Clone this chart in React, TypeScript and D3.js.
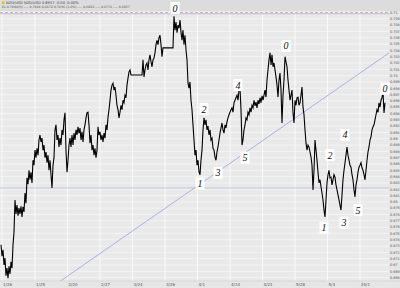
import React from 'react';
import * as d3 from 'd3';

const W = 400;
const H = 288;

// Price series (NZD/USD), three contiguous segments of bars (time index = bar number)
const seg1Start = 1;
const seg1 = [
  0.6732, 0.6714, 0.6724, 0.6700, 0.6711, 0.6683, 0.6695, 0.6679, 0.6698, 0.6686,
  0.6705, 0.6695, 0.6732, 0.6752, 0.6803, 0.6781, 0.6795, 0.6778, 0.6790, 0.6781,
  0.6793, 0.6776, 0.6792, 0.6784, 0.6814, 0.6798, 0.6838, 0.6828, 0.6850, 0.6835,
  0.6847, 0.6830, 0.6866, 0.6858, 0.6882, 0.6870, 0.6885, 0.6874, 0.6898, 0.6906,
  0.6895, 0.6901, 0.6882, 0.6890, 0.6870, 0.6879, 0.6862, 0.6874, 0.6850, 0.6866,
  0.6843, 0.6822, 0.6858, 0.6870, 0.6914, 0.6922, 0.6898, 0.6906, 0.6887, 0.6901,
  0.6890, 0.6914, 0.6906, 0.6930, 0.6941, 0.6882, 0.6847, 0.6866, 0.6890, 0.6901,
  0.6887, 0.6906, 0.6890, 0.6909, 0.6898, 0.6914, 0.6906, 0.6919, 0.6909, 0.6917,
  0.6898, 0.6911, 0.6895, 0.6914, 0.6922, 0.6933, 0.6941, 0.6942, 0.6922, 0.6893,
  0.6906, 0.6882, 0.6890, 0.6874, 0.6885, 0.6870, 0.6882, 0.6919, 0.6906, 0.6911,
  0.6898, 0.6906, 0.6895, 0.6909, 0.6901, 0.6922, 0.6914, 0.6934, 0.6946, 0.6961,
  0.6977, 0.6985, 0.6988, 0.6977, 0.6982, 0.6969, 0.6953, 0.6946, 0.6933, 0.6942,
  0.6953, 0.6946, 0.6961, 0.6957, 0.6969, 0.6965, 0.6985, 0.6996, 0.7006, 0.7009,
  0.7001,
];
const seg2Start = 142;
const seg2 = [
  0.7001, 0.7025, 0.6998, 0.7009, 0.7017, 0.7020, 0.7009, 0.7025, 0.7033, 0.7022,
  0.7014, 0.7025, 0.7028, 0.7036, 0.7049, 0.7056, 0.7049, 0.7060, 0.7064, 0.7049,
  0.7030, 0.7044,
];
const seg3Start = 173;
const seg3 = [
  0.7044, 0.7094, 0.7072, 0.7085, 0.7068, 0.7080, 0.7075, 0.7088, 0.7069, 0.7056,
  0.7072, 0.7049, 0.7064, 0.7041, 0.7025, 0.6988, 0.6980, 0.6990, 0.6961, 0.6946,
  0.6922, 0.6898, 0.6874, 0.6882, 0.6858, 0.6866, 0.6847, 0.6843, 0.6866, 0.6882,
  0.6914, 0.6933, 0.6922, 0.6930, 0.6914, 0.6920, 0.6906, 0.6914, 0.6898, 0.6901,
  0.6885, 0.6882, 0.6871, 0.6866, 0.6879, 0.6887, 0.6898, 0.6909, 0.6917, 0.6925,
  0.6914, 0.6909, 0.6922, 0.6917, 0.6927, 0.6933, 0.6938, 0.6942, 0.6946, 0.6949,
  0.6942, 0.6957, 0.6961, 0.6965, 0.6969, 0.6961, 0.6977, 0.6980, 0.6946, 0.6890,
  0.6898, 0.6914, 0.6922, 0.6933, 0.6930, 0.6942, 0.6938, 0.6949, 0.6942, 0.6953,
  0.6949, 0.6961, 0.6952, 0.6958, 0.6949, 0.6961, 0.6955, 0.6965, 0.6957, 0.6968,
  0.6961, 0.6969, 0.6977, 0.6966, 0.6993, 0.7009, 0.7025, 0.7036, 0.7017, 0.7033,
  0.7014, 0.7020, 0.7009, 0.6998, 0.6985, 0.6966, 0.6993, 0.7004, 0.6977, 0.6925,
  0.6969, 0.6993, 0.7030, 0.7022, 0.7014, 0.6993, 0.6977, 0.6961, 0.6969, 0.6977,
  0.6941, 0.6925, 0.6961, 0.6953, 0.6965, 0.6966, 0.6953, 0.6957, 0.6969, 0.6982,
  0.6950, 0.6938, 0.6914, 0.6893, 0.6882, 0.6890, 0.6887, 0.6879, 0.6871, 0.6858,
  0.6819, 0.6850, 0.6898, 0.6882, 0.6866, 0.6847, 0.6830, 0.6835, 0.6824, 0.6814,
  0.6803, 0.6787, 0.6776, 0.6803, 0.6830, 0.6843, 0.6850, 0.6838, 0.6839, 0.6827,
  0.6835, 0.6843, 0.6839, 0.6827, 0.6819, 0.6811, 0.6803, 0.6795, 0.6787, 0.6811,
  0.6835, 0.6850, 0.6862, 0.6874, 0.6887, 0.6874, 0.6866, 0.6858, 0.6855, 0.6843,
  0.6835, 0.6819, 0.6808, 0.6827, 0.6835, 0.6847, 0.6855, 0.6858, 0.6862, 0.6854,
  0.6850, 0.6843, 0.6835, 0.6850, 0.6866, 0.6879, 0.6887, 0.6898, 0.6903, 0.6914,
  0.6919, 0.6922, 0.6930, 0.6938, 0.6946, 0.6942, 0.6957, 0.6950, 0.6961, 0.6965,
  0.6974, 0.6941, 0.6957,
];

// Axis ticks
const yTickValues = [
  0.71, 0.709, 0.708, 0.707, 0.706, 0.705, 0.704, 0.703, 0.702, 0.701, 0.7,
  0.699, 0.698, 0.697, 0.696, 0.695, 0.694, 0.693, 0.692, 0.691, 0.69,
  0.689, 0.688, 0.687, 0.686, 0.685, 0.684, 0.683, 0.682, 0.681, 0.68,
  0.679, 0.678, 0.677, 0.676, 0.675, 0.674, 0.673, 0.672, 0.671, 0.67,
  0.669, 0.668,
];
const xTickPositions = [2, 35, 67.5, 100, 132.5, 165, 197.5, 230, 262.5, 295, 327.5, 360];
const xTickLabels = ['1/26', '1/25', '2/20', '2/27', '3/24', '3/26', '4/1', '4/14', '4/21', '5/28', '5/4', '20/1'];

// Elliott wave labels (bar index, price at label centre)
const waveText = ['0', '1', '2', '3', '4', '5', '0', '1', '2', '3', '4', '5', '0'];
const waveBar = [175, 200, 204, 218, 238, 245, 286, 324, 330, 344, 345, 358, 385];
const wavePrice = [0.7107, 0.6829, 0.6947, 0.6846, 0.6985, 0.6870, 0.7047, 0.6759, 0.6874, 0.6767, 0.6906, 0.6787, 0.6979];

// Trend line and reference levels
const trendBars = [58, 389];
const trendPrices = [0.6672, 0.7036];
const supportLevel = 0.6822;
const topDashedLevel = 0.71;
const topBlueLevel = 0.7098;

const headerLine1 = 'NZD/USD NZD/USD  0.6957  -0.00  -0.00%';
const headerLine2 = 'EL 0.7094(H)    ---- 0.7044 0.6672 0.7036 (1.6%) ---- 0.6822  ---- 0.6776  ---- 0.6957';

export default function App() {
  const plotL = 0;
  const plotR = 389;
  const plotT = 11;
  const plotB = 281;

  const x = d3.scaleLinear().domain([0, 389]).range([plotL, plotR]);
  const y = d3.scaleLinear().domain([0.71, 0.67]).range([12.5, 265]);

  const series: [number, number][] = [];
  seg1.forEach((p, i) => series.push([seg1Start + i, p]));
  seg2.forEach((p, i) => series.push([seg2Start + i, p]));
  seg3.forEach((p, i) => series.push([seg3Start + i, p]));

  const line = d3
    .line<[number, number]>()
    .x((d) => x(d[0]))
    .y((d) => y(d[1]));

  const trend = d3
    .line<number>()
    .x((d) => x(trendBars[d]))
    .y((d) => y(trendPrices[d]));

  const fmt = (v: number) => {
    const s = d3.format('.3f')(v);
    return s.replace(/0$/, '');
  };

  return (
    <svg
      width={W}
      height={H}
      style={{ position: 'absolute', left: 0, top: 0, display: 'block' }}
      fontFamily="DejaVu Sans, sans-serif"
    >
      <defs>
        <clipPath id="plotClip">
          <rect x={plotL} y={plotT} width={plotR - plotL} height={plotB - plotT} />
        </clipPath>
      </defs>
      <rect x={0} y={0} width={W} height={H} fill="#e6e6e6" />
      <rect x={0} y={0} width={W} height={plotT} fill="#dcdcdc" />
      <rect x={plotL} y={plotT} width={plotR - plotL} height={plotB - plotT} fill="#e9e9e9" />

      {/* horizontal grid */}
      {yTickValues.map((v) => (
        <line key={'hg' + v} x1={plotL} x2={plotR} y1={y(v)} y2={y(v)} stroke="#f6f6f6" strokeWidth={0.8} />
      ))}
      {/* vertical grid */}
      {xTickPositions.map((t) => (
        <line key={'vg' + t} x1={x(t)} x2={x(t)} y1={plotT} y2={plotB} stroke="#fafafa" strokeWidth={1} />
      ))}

      <g clipPath="url(#plotClip)">
        <line x1={plotL} x2={plotR} y1={y(topDashedLevel)} y2={y(topDashedLevel)} stroke="#e39a9a" strokeWidth={0.8} strokeDasharray="3,2" />
        <line x1={plotL} x2={plotR} y1={y(topBlueLevel)} y2={y(topBlueLevel)} stroke="#a9b3df" strokeWidth={0.8} />
        <line x1={plotL} x2={plotR} y1={y(supportLevel)} y2={y(supportLevel)} stroke="#b4bce0" strokeWidth={0.8} />
        <path d={trend([0, 1]) || ''} fill="none" stroke="#a4acd8" strokeWidth={0.9} />
        <path d={line(series) || ''} fill="none" stroke="#000" strokeWidth={1.1} strokeLinejoin="miter" />
      </g>

      {/* wave labels */}
      {waveText.map((t, i) => (
        <g key={'w' + i} transform={`translate(${x(waveBar[i])},${y(wavePrice[i])})`}>
          <rect x={-4.5} y={-6} width={9} height={12} fill="#ffffff" />
          <text
            x={0}
            y={3.5}
            textAnchor="middle"
            fontFamily="Liberation Serif, DejaVu Serif, serif"
            fontStyle="italic"
            fontSize={10}
            fill="#111"
          >
            {t}
          </text>
        </g>
      ))}

      {/* right axis labels */}
      {yTickValues.map((v) => (
        <text key={'yl' + v} x={390} y={y(v) + 1.3} fontSize={3.4} fill="#555">
          {fmt(v)}
        </text>
      ))}

      {/* bottom axis */}
      <line x1={0} x2={W} y1={plotB} y2={plotB} stroke="#cfcfcf" strokeWidth={0.6} />
      {xTickLabels.map((l, i) => (
        <text key={'xl' + i} x={x(xTickPositions[i]) + 1} y={285.5} fontSize={4} fill="#555">
          {l}
        </text>
      ))}

      {/* header */}
      <rect x={2} y={1.5} width={2.5} height={2.5} fill="#e0c020" />
      <text x={6} y={4} fontSize={3.6} fill="#444">{headerLine1}</text>
      <text x={2} y={8.3} fontSize={3.2} fill="#555">{headerLine2}</text>
    </svg>
  );
}
